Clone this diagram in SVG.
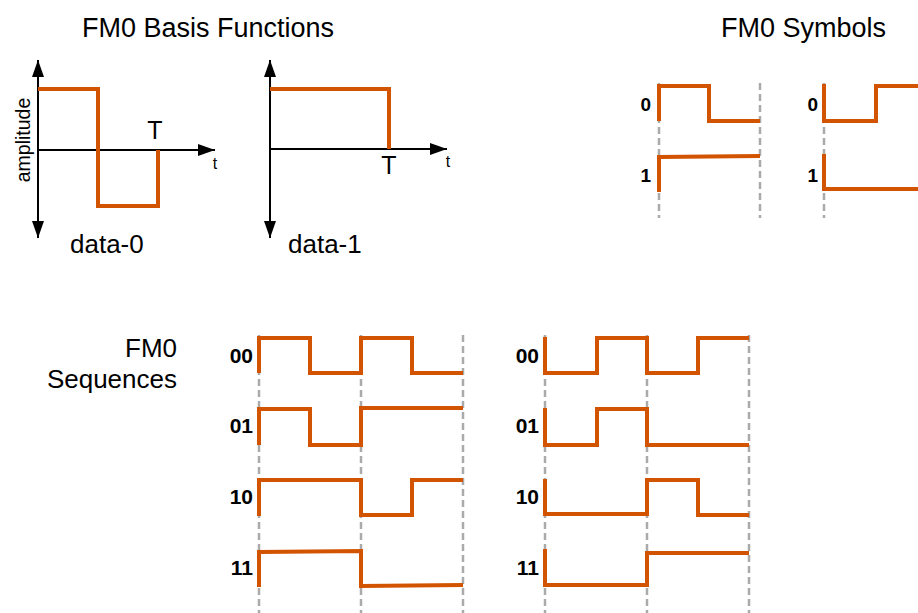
<svg xmlns="http://www.w3.org/2000/svg" width="918" height="613" viewBox="0 0 918 613">
  <style>
    text { font-family: "Liberation Sans", Arial, sans-serif; fill: #000; }
    .title { font-size: 27px; }
    .side { font-size: 26px; text-anchor: end; }
    .cap { font-size: 26px; }
    .lbl { font-size: 19px; font-weight: bold; text-anchor: end; }
    .seq { font-size: 21px; font-weight: bold; text-anchor: end; }
    .wave { fill: none; stroke: #d35400; stroke-width: 4; stroke-linejoin: miter; stroke-linecap: butt; }
    .grid { stroke: #aaaaaa; stroke-width: 2.5; stroke-dasharray: 7 4; fill: none; }
    .axis { stroke: #000; stroke-width: 2; fill: none; }
  </style>
  <defs>
    <marker id="arrow" markerUnits="userSpaceOnUse" markerWidth="17" markerHeight="12" refX="17" refY="6" orient="auto-start-reverse">
      <path d="M0,0 L17,6 L0,12 z" fill="#000"/>
    </marker>
  </defs>
  <rect width="918" height="613" fill="#fff"/>

  <!-- Titles -->
  <text class="title" x="82" y="37">FM0 Basis Functions</text>
  <text class="title" x="721" y="37">FM0 Symbols</text>
  <text class="side" x="177" y="357">FM0</text>
  <text class="side" x="177" y="388">Sequences</text>

  <!-- Basis function data-0 -->
  <g id="basis-data0">
    <line class="axis" x1="38" y1="238" x2="38" y2="60" marker-start="url(#arrow)" marker-end="url(#arrow)"/>
    <line class="axis" x1="38" y1="150" x2="215" y2="150" marker-end="url(#arrow)"/>
    <path class="wave" d="M38,89 H98 V206 H158 V150"/>
    <text x="155" y="139" text-anchor="middle" style="font-size:25px">T</text>
    <text x="215" y="169" text-anchor="middle" style="font-size:16px">t</text>
    <text transform="translate(30,140) rotate(-90)" text-anchor="middle" style="font-size:19.5px">amplitude</text>
    <text class="cap" x="70" y="253">data-0</text>
  </g>

  <!-- Basis function data-1 -->
  <g id="basis-data1">
    <line class="axis" x1="270" y1="238" x2="270" y2="60" marker-start="url(#arrow)" marker-end="url(#arrow)"/>
    <line class="axis" x1="270" y1="149" x2="447" y2="149" marker-end="url(#arrow)"/>
    <path class="wave" d="M270,89 H389 V149"/>
    <text x="389" y="174" text-anchor="middle" style="font-size:25px">T</text>
    <text x="448" y="167" text-anchor="middle" style="font-size:16px">t</text>
    <text class="cap" x="288" y="253">data-1</text>
  </g>

  <!-- Symbol boundaries -->
  <g id="symbol-grid">
    <line class="grid" x1="659" y1="83" x2="659" y2="218"/>
    <line class="grid" x1="760" y1="83" x2="760" y2="218"/>
    <line class="grid" x1="824" y1="83" x2="824" y2="218"/>
  </g>

  <!-- Symbols, starting high -->
  <g id="symbols-high">
    <text class="lbl" x="651" y="111">0</text>
    <path class="wave" d="M659,121 V86 H709 V121 H760"/>
    <text class="lbl" x="651" y="182">1</text>
    <path class="wave" d="M659,192 V157 L760,156"/>
  </g>

  <!-- Symbols, starting low -->
  <g id="symbols-low">
    <text class="lbl" x="818" y="111">0</text>
    <path class="wave" d="M824,84 V121 H876 V86 H918"/>
    <text class="lbl" x="818" y="182">1</text>
    <path class="wave" d="M824,154 V189 H918"/>
  </g>

  <!-- Sequence boundaries -->
  <g id="sequence-grid">
    <line class="grid" x1="259" y1="335" x2="259" y2="613"/>
    <line class="grid" x1="361" y1="335" x2="361" y2="613"/>
    <line class="grid" x1="463" y1="335" x2="463" y2="613"/>
    <line class="grid" x1="545" y1="335" x2="545" y2="613"/>
    <line class="grid" x1="647" y1="335" x2="647" y2="613"/>
    <line class="grid" x1="749" y1="335" x2="749" y2="613"/>
  </g>

  <!-- Sequences, starting high -->
  <g id="sequences-high">
    <text class="seq" x="253" y="363">00</text>
    <path class="wave" d="M259,373 V338 H310 V373 H361 V338 H412 V373 H463"/>
    <text class="seq" x="253" y="433">01</text>
    <path class="wave" d="M259,445 V409 H310 V445 H361 V408 H463"/>
    <text class="seq" x="253" y="504">10</text>
    <path class="wave" d="M259,516 V480 H361 V515 H412 V480 H463"/>
    <text class="seq" x="253" y="575">11</text>
    <path class="wave" d="M259,587 V552 L361,551 V586 L463,585"/>
  </g>

  <!-- Sequences, starting low -->
  <g id="sequences-low">
    <text class="seq" x="539" y="363">00</text>
    <path class="wave" d="M545,337 V373 H597 V338 H647 V373 H698 V338 H749"/>
    <text class="seq" x="539" y="433">01</text>
    <path class="wave" d="M545,408 V445 H597 V409 H647 V445 H749"/>
    <text class="seq" x="539" y="504">10</text>
    <path class="wave" d="M545,479 V514 H647 V480 H698 V515 H749"/>
    <text class="seq" x="539" y="575">11</text>
    <path class="wave" d="M545,549 V585 H647 V553 H749"/>
  </g>
</svg>
